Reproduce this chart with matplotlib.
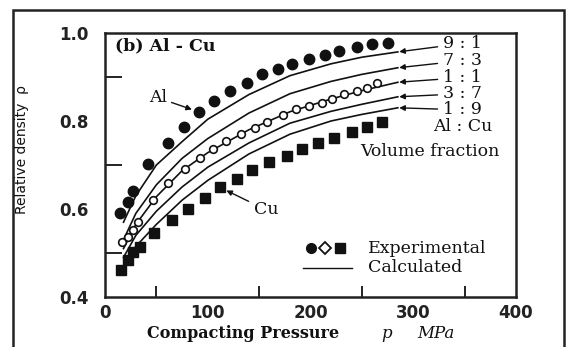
import matplotlib
matplotlib.use("Agg")
import matplotlib.pyplot as plt
from matplotlib.patches import Rectangle
from matplotlib.ticker import FixedLocator

# ---- data ----
al_p = [15, 22, 27, 42, 61, 77, 91, 106, 122, 138, 153, 168, 182, 199, 214, 228, 245, 260, 275]
al_rho = [0.590, 0.615, 0.640, 0.703, 0.749, 0.787, 0.821, 0.846, 0.869, 0.887, 0.907,
          0.918, 0.930, 0.941, 0.950, 0.959, 0.968, 0.975, 0.977]

mix_p = [17, 22, 27, 32, 47, 61, 78, 92, 105, 118, 132, 146, 158, 173, 186, 199, 211, 221,
         233, 245, 255, 265]
mix_rho = [0.525, 0.536, 0.552, 0.570, 0.620, 0.660, 0.692, 0.717, 0.737, 0.755, 0.771,
           0.785, 0.798, 0.814, 0.828, 0.835, 0.841, 0.851, 0.862, 0.869, 0.875, 0.887]

cu_p = [16, 22, 27, 34, 48, 65, 81, 97, 112, 128, 143, 160, 177, 192, 207, 223, 240, 255, 270]
cu_rho = [0.461, 0.484, 0.502, 0.513, 0.545, 0.574, 0.601, 0.626, 0.649, 0.669, 0.688,
          0.706, 0.721, 0.737, 0.749, 0.762, 0.774, 0.787, 0.798]

calc_p = [18, 30, 50, 75, 100, 140, 180, 220, 250, 285]
calc_91 = [0.57, 0.63, 0.70, 0.753, 0.804, 0.86, 0.903, 0.930, 0.945, 0.957]
calc_73 = [0.53, 0.59, 0.655, 0.715, 0.760, 0.818, 0.862, 0.890, 0.906, 0.921]
calc_11 = [0.51, 0.565, 0.628, 0.687, 0.728, 0.780, 0.821, 0.850, 0.869, 0.888]
calc_37 = [0.49, 0.54, 0.595, 0.650, 0.695, 0.750, 0.795, 0.822, 0.838, 0.855]
calc_19 = [0.47, 0.515, 0.565, 0.620, 0.665, 0.725, 0.770, 0.800, 0.815, 0.830]
ratio_labels = ["9 : 1", "7 : 3", "1 : 1", "3 : 7", "1 : 9"]

x_ticks = [0, 100, 200, 300, 400]
y_ticks = [0.4, 0.6, 0.8, 1.0]

# ---- figure ----
W, H = 571, 347
fig = plt.figure(figsize=(W / 100, H / 100), dpi=100)
ax = fig.add_axes([105 / W, 1 - 297 / H, 411 / W, 264 / H])

serif = ["DejaVu Serif"]
sans = ["DejaVu Sans"]

lc = "#111111"
for curve in (calc_91, calc_73, calc_11, calc_37, calc_19):
    ax.plot(calc_p, curve, color=lc, lw=1.2, zorder=2)

ax.plot(al_p, al_rho, "o", color=lc, ms=7.5, zorder=3)
ax.plot(mix_p, mix_rho, "o", mfc="white", mec=lc, mew=1.2, ms=5.5, zorder=3)
ax.plot(cu_p, cu_rho, "s", color=lc, ms=6.5, zorder=3)

ax.set_xlim(0, 400)
ax.set_ylim(0.4, 1.0)
ax.xaxis.set_major_locator(FixedLocator(x_ticks))
ax.yaxis.set_major_locator(FixedLocator(y_ticks))
ax.xaxis.set_minor_locator(FixedLocator([50, 100, 150, 200, 250, 300, 350]))
ax.yaxis.set_minor_locator(FixedLocator([0.5, 0.6, 0.7, 0.8, 0.9]))
ax.set_xticklabels([str(v) for v in x_ticks])
ax.set_yticklabels([f"{v:.1f}" for v in y_ticks])
ax.tick_params(which="major", length=0, labelsize=12)
ax.tick_params(axis="x", which="major", pad=5)
ax.tick_params(axis="y", which="major", pad=12)
ax.tick_params(axis="x", which="minor", direction="in", length=8, width=1.3, color=lc)
ax.tick_params(axis="y", which="minor", direction="in", length=12, width=1.3, color=lc)
for lab in ax.get_xticklabels() + ax.get_yticklabels():
    lab.set_fontfamily(sans)
    lab.set_fontweight("bold")
    lab.set_color("#222222")
for s in ax.spines.values():
    s.set_linewidth(1.8)
    s.set_color("#222222")

# panel title
ax.text(0.024, 0.951, "(b) Al - Cu", transform=ax.transAxes, ha="left", va="center",
        fontsize=12.5, family=serif, fontweight="bold", color=lc)

# ratio labels with arrows to curve ends
label_y = [0.96, 0.895, 0.831, 0.770, 0.709]
for lab, curve, fy in zip(ratio_labels, (calc_91, calc_73, calc_11, calc_37, calc_19), label_y):
    ax.annotate(lab, xy=(calc_p[-1], curve[-1]), xycoords="data",
                xytext=(0.87, fy), textcoords="axes fraction",
                ha="center", va="center", fontsize=12.5, family=serif, color=lc,
                arrowprops=dict(arrowstyle="-|>", color=lc, lw=1.0, shrinkA=2, shrinkB=1,
                                mutation_scale=8))
ax.text(0.87, 0.644, "Al : Cu", transform=ax.transAxes, ha="center", va="center",
        fontsize=12.5, family=serif, color=lc)
ax.text(0.79, 0.55, "Volume fraction", transform=ax.transAxes, ha="center", va="center",
        fontsize=12.5, family=serif, color=lc)

# Al / Cu pointers
ax.annotate("Al", xy=(al_p[6], al_rho[6]), xycoords="data", xytext=(0.13, 0.754),
            textcoords="axes fraction", ha="center", va="center", fontsize=12.5,
            family=serif, color=lc,
            arrowprops=dict(arrowstyle="-|>", color=lc, lw=1.0, shrinkA=1, shrinkB=5,
                            mutation_scale=8))
ax.annotate("Cu", xy=(cu_p[8], cu_rho[8]), xycoords="data", xytext=(0.392, 0.330),
            textcoords="axes fraction", ha="center", va="center", fontsize=12.5,
            family=serif, color=lc,
            arrowprops=dict(arrowstyle="-|>", color=lc, lw=1.0, shrinkA=2, shrinkB=5,
                            mutation_scale=8))

# manual legend
ly1, ly2 = 0.184, 0.110
ax.plot([0.500], [ly1], "o", color=lc, ms=7, transform=ax.transAxes, clip_on=False)
ax.plot([0.536], [ly1], "D", mfc="white", mec=lc, mew=1.3, ms=6, transform=ax.transAxes,
        clip_on=False)
ax.plot([0.572], [ly1], "s", color=lc, ms=6.5, transform=ax.transAxes, clip_on=False)
ax.text(0.640, ly1, "Experimental", transform=ax.transAxes, ha="left", va="center",
        fontsize=12.5, family=serif, color=lc)
ax.plot([0.481, 0.600], [ly2, ly2], color=lc, lw=1.0, transform=ax.transAxes, clip_on=False)
ax.text(0.640, ly2, "Calculated", transform=ax.transAxes, ha="left", va="center",
        fontsize=12.5, family=serif, color=lc)

# axis labels
fy_lab = 1 - 333 / H
fig.text(147 / W, fy_lab, "Compacting Pressure", ha="left", va="center",
         fontsize=11.5, family=serif, fontweight="bold", color=lc)
fig.text(387 / W, fy_lab, "p", ha="center", va="center", fontsize=12,
         family=serif, style="italic", color=lc)
fig.text(417 / W, fy_lab, "MPa", ha="left", va="center", fontsize=12,
         family=serif, style="italic", color=lc)
fig.text(22 / W, 1 - 150 / H, "Relative density  \u03c1", rotation=90, ha="center",
         va="center", fontsize=10, family=["Liberation Sans Narrow", "DejaVu Sans"],
         color=lc)

# outer frame of the scanned figure
fig.add_artist(Rectangle((13 / W, -0.05), 551 / W, 1.05 - 10 / H, transform=fig.transFigure,
                         fill=False, lw=1.8, ec="#222222"))

fig.savefig("out.png", dpi=100)
